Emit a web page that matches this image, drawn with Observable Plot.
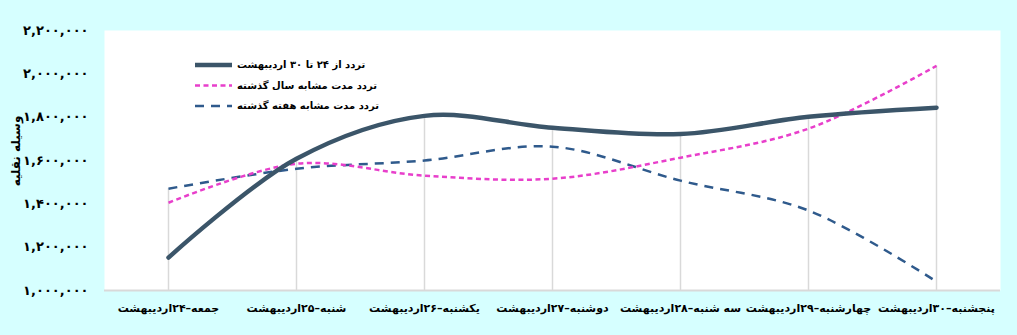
<!DOCTYPE html>
<html>
<head>
<meta charset="utf-8">
<script src="https://cdn.jsdelivr.net/npm/d3@7"></script>
<script src="https://cdn.jsdelivr.net/npm/@observablehq/plot@0.6"></script>
<style>
  html, body { margin: 0; padding: 0; background: #d6ffff; }
  #chart { width: 1017px; height: 335px; }
</style>
</head>
<body>
<div id="chart"></div>
<script>
const days = [
  "جمعه–۲۴اردیبهشت",
  "شنبه–۲۵اردیبهشت",
  "یکشنبه–۲۶اردیبهشت",
  "دوشنبه–۲۷اردیبهشت",
  "سه شنبه–۲۸اردیبهشت",
  "چهارشنبه–۲۹اردیبهشت",
  "پنجشنبه–۳۰اردیبهشت"
];
const seriesNames = [
  "تردد از ۲۴ تا ۳۰ اردیبهشت",
  "تردد مدت مشابه سال گذشته",
  "تردد مدت مشابه هفته گذشته"
];
const current  = [1152000, 1608000, 1806000, 1751000, 1722000, 1802000, 1844000];
const lastYear = [1405000, 1585000, 1530000, 1516000, 1613000, 1747000, 2037000];
const lastWeek = [1470000, 1562000, 1600000, 1664000, 1507000, 1369000, 1041000];
const yTicks = [1000000, 1200000, 1400000, 1600000, 1800000, 2000000, 2200000];
const yTitle = "وسیله نقلیه";

const colors = ["#3b5569", "#e83fcb", "#2f5a8c"];
const widths = [4.5, 2.5, 2.5];
const dashes = [null, "5,3.5", "9,7"];

const allSeries = [current, lastYear, lastWeek];
const rows = allSeries.flatMap((vals, s) => vals.map((v, i) => ({day: days[i], series: seriesNames[s], v})));
const drops = days.map((d, i) => ({day: d, top: Math.max(current[i], lastYear[i], lastWeek[i])}));

const fa = n => d3.format(",")(n).replace(/\d/g, c => "۰۱۲۳۴۵۶۷۸۹"[+c]);

const plot = Plot.plot({
  width: 1017,
  height: 335,
  marginLeft: 104,
  marginRight: 17,
  marginTop: 30,
  marginBottom: 45,
  style: {background: "#d6ffff", fontFamily: "DejaVu Sans", fontWeight: "bold", color: "#000", overflow: "visible"},
  x: {type: "point", domain: days, padding: 0.5, label: null},
  y: {domain: [1000000, 2200000], label: null},
  marks: [
    Plot.frame({fill: "white", stroke: null}),
    Plot.ruleX(drops, {x: "day", y1: 1000000, y2: "top", stroke: "#d9d9d9", strokeWidth: 1.5}),
    Plot.ruleY([1000000], {stroke: "#d9d9d9", strokeWidth: 2}),
    ...[2, 1, 0].map(s => Plot.line(rows.filter(r => r.series === seriesNames[s]), {
      x: "day", y: "v", curve: "catmull-rom",
      stroke: colors[s], strokeWidth: widths[s], strokeDasharray: dashes[s],
      strokeLinecap: s === 0 ? "round" : "butt"
    })),
    Plot.axisY(yTicks, {tickSize: 0, tickPadding: 16, tickFormat: fa, fontSize: 13, fontWeight: "bold"}),
    Plot.axisX({tickSize: 0, tickPadding: 14, fontSize: 11, fontWeight: "bold"})
  ]
});
document.getElementById("chart").appendChild(plot);

// y-axis title and legend
const svg = d3.select(plot);
svg.append("text")
  .attr("transform", "translate(16,151) rotate(-90)")
  .attr("text-anchor", "middle")
  .attr("dominant-baseline", "middle")
  .attr("font-size", 12).attr("font-weight", "bold").attr("fill", "#000")
  .text(yTitle);

const lg = svg.append("g");
seriesNames.forEach((name, s) => {
  const y = 65 + s * 20.5;
  lg.append("line").attr("x1", 195).attr("x2", 232).attr("y1", y).attr("y2", y)
    .attr("stroke", colors[s]).attr("stroke-width", widths[s])
    .attr("stroke-dasharray", dashes[s]);
  const t = lg.append("text").attr("x", 0).attr("y", y)
    .attr("text-anchor", "middle")
    .attr("dominant-baseline", "middle")
    .attr("font-size", 10).attr("font-weight", "bold").attr("fill", "#000")
    .text(name);
  const w = t.node().getComputedTextLength();
  t.attr("x", 237 + w / 2);
});
</script>
</body>
</html>
